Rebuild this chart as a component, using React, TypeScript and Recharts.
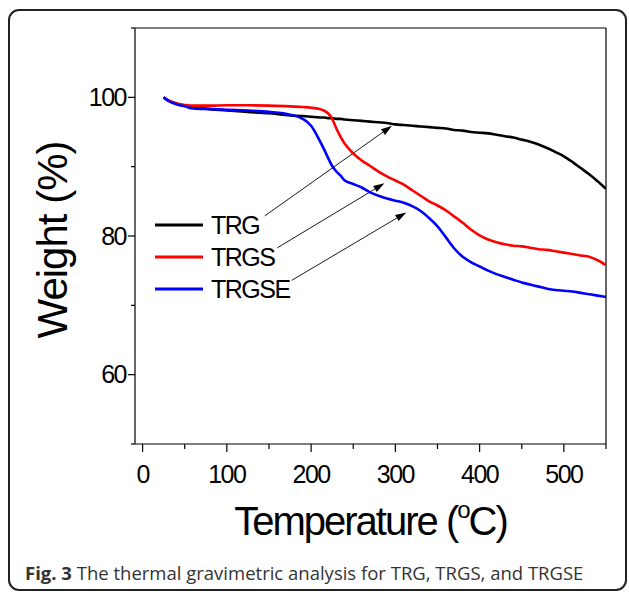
import { Label, Legend, Line, LineChart, ReferenceLine, XAxis, YAxis } from "recharts";

const temps = [
  25, 30, 40, 50, 60, 80, 100, 125, 150, 175, 190, 200, 210, 215, 220, 225, 230, 235, 240, 250,
  260, 270, 280, 290, 300, 310, 320, 330, 340, 350, 360, 370, 380, 390, 400, 410, 420, 430, 440,
  450, 460, 470, 480, 490, 500, 510, 520, 530, 540, 550,
];
const trg = [
  100, 99.6, 99.1, 98.8, 98.6, 98.3, 98.1, 97.9, 97.7, 97.4, 97.3, 97.2, 97.1, 97.1, 97.0, 97.0,
  96.9, 96.9, 96.8, 96.7, 96.6, 96.5, 96.4, 96.3, 96.1, 96.0, 95.9, 95.8, 95.7, 95.6, 95.5, 95.3,
  95.2, 95.0, 94.9, 94.8, 94.6, 94.4, 94.2, 93.9, 93.6, 93.2, 92.7, 92.1, 91.5, 90.7, 89.8, 88.9,
  87.9, 86.8,
];
const trgs = [
  100, 99.6, 99.1, 98.9, 98.8, 98.8, 98.85, 98.85, 98.8, 98.7, 98.6, 98.5, 98.3, 98.1, 97.7, 96.9,
  95.5, 94.3, 93.3, 91.9, 90.9, 90.1, 89.3, 88.6, 88.0, 87.4, 86.6, 85.8, 85.0, 84.4, 83.7, 82.8,
  81.9, 80.9, 80.1, 79.5, 79.1, 78.8, 78.6, 78.5, 78.3, 78.1, 78.0, 77.8, 77.6, 77.4, 77.2, 77.0,
  76.5, 75.8,
];
const trgse = [
  100, 99.5, 99.0, 98.7, 98.4, 98.3, 98.2, 98.1, 97.9, 97.5, 96.9, 95.9, 93.8, 92.6, 91.3, 90.1,
  89.3, 88.7, 88.0, 87.5, 87.0, 86.3, 85.8, 85.4, 85.1, 84.8, 84.3, 83.6, 82.6, 81.4, 79.8, 78.2,
  77.0, 76.2, 75.6, 75.0, 74.5, 74.1, 73.7, 73.3, 73.0, 72.7, 72.4, 72.2, 72.1, 72.0, 71.8, 71.6,
  71.4, 71.2,
];

const xTicks = [0, 50, 100, 150, 200, 250, 300, 350, 400, 450, 500, 550];
const yTicks = [50, 60, 70, 80, 90, 100, 110];

const seriesNames = ["TRG", "TRGS", "TRGSE"];
const seriesColors = ["#000000", "#ff0000", "#0000ff"];

// arrows from legend labels to curves: [x1, y1, x2, y2] in data units
const arrows = [
  [145, 82.9, 296, 95.9],
  [160, 78.3, 287, 87.6],
  [177, 73.6, 313, 83.4],
];

const data = temps.map((t, i) => ({ t, TRG: trg[i], TRGS: trgs[i], TRGSE: trgse[i] }));

const tickFont = { fontFamily: "'Liberation Sans', Arial, sans-serif", fontSize: 25, letterSpacing: -1.5 };

const XTick = (props: any) => {
  const { x, y, payload } = props;
  const major = payload.value % 100 === 0;
  return (
    <g>
      <line x1={x} y1={y} x2={x} y2={y + (major ? 8 : 5)} stroke="#000" strokeWidth={1.2} />
      {major && payload.value <= 500 && (
        <text x={x} y={y + 30} dy="0.35em" textAnchor="middle" fill="#000" style={tickFont}>
          {payload.value}
        </text>
      )}
    </g>
  );
};

const YTick = (props: any) => {
  const { x, y, payload } = props;
  const major = payload.value % 20 === 0 && payload.value >= 60 && payload.value <= 100;
  return (
    <g>
      <line x1={x - (major ? 7 : 4)} y1={y} x2={x} y2={y} stroke="#000" strokeWidth={1.2} />
      {major && (
        <text x={x - 9} y={y} dy="0.35em" textAnchor="end" fill="#000" style={tickFont}>
          {payload.value}
        </text>
      )}
    </g>
  );
};

const Arrow = (props: any) => {
  const { x1, y1, x2, y2 } = props;
  if (x1 == null) return null;
  const a = Math.atan2(y2 - y1, x2 - x1);
  const len = 11;
  const w = 3.5;
  const bx = x2 - len * Math.cos(a);
  const by = y2 - len * Math.sin(a);
  const pts = `${x2},${y2} ${bx - w * Math.sin(a)},${by + w * Math.cos(a)} ${bx + w * Math.sin(a)},${by - w * Math.cos(a)}`;
  return (
    <g>
      <line x1={x1} y1={y1} x2={bx} y2={by} stroke="#000" strokeWidth={0.9} />
      <polygon points={pts} fill="#000" />
    </g>
  );
};

const renderLegend = () => (
  <div style={{ fontFamily: "'Liberation Sans', Arial, sans-serif", fontSize: 25, letterSpacing: -1.5 }}>
    {seriesNames.map((name, i) => (
      <div key={name} style={{ display: "flex", alignItems: "center", height: 32 }}>
        <svg width={50} height={6} style={{ marginRight: 6 }}>
          <line x1={0} y1={3} x2={48} y2={3} stroke={seriesColors[i]} strokeWidth={3} />
        </svg>
        <span style={{ color: "#000" }}>{name}</span>
      </div>
    ))}
  </div>
);

const XTitle = (props: any) => {
  const { viewBox } = props;
  const cx = viewBox.x + viewBox.width / 2;
  return (
    <text
      x={cx}
      y={535}
      textAnchor="middle"
      fill="#000"
      style={{ fontFamily: "'Liberation Sans', Arial, sans-serif", fontSize: 40, letterSpacing: -2 }}
    >
      Temperature (<tspan fontSize={24} dy={-17}>o</tspan>
      <tspan dy={17}>C)</tspan>
    </text>
  );
};

const YTitle = () => (
  <text
    x={0}
    y={0}
    transform="translate(67, 240) rotate(-90)"
    textAnchor="middle"
    fill="#000"
    style={{ fontFamily: "'Liberation Sans', Arial, sans-serif", fontSize: 42, letterSpacing: -1 }}
  >
    Weight (%)
  </text>
);

export default function App() {
  return (
    <div style={{ position: "absolute", left: 0, top: 0, width: 629, height: 592, background: "#fff" }}>
      <LineChart width={629} height={592} data={data} margin={{ top: 28, right: 23, bottom: 108, left: 75 }}>
        <XAxis
          dataKey="t"
          type="number"
          domain={[-9, 550]}
          ticks={xTicks}
          tick={<XTick />}
          tickLine={false}
          tickSize={0}
          tickMargin={0}
          height={40}
          axisLine={{ stroke: "#000", strokeWidth: 1.2 }}
          allowDataOverflow
        >
          <Label content={<XTitle />} />
        </XAxis>
        <YAxis
          type="number"
          domain={[50, 110]}
          ticks={yTicks}
          tick={<YTick />}
          tickLine={false}
          tickSize={0}
          tickMargin={0}
          width={60}
          axisLine={{ stroke: "#000", strokeWidth: 1.2 }}
          allowDataOverflow
        >
          <Label content={<YTitle />} />
        </YAxis>
        <ReferenceLine y={110} stroke="#000" strokeWidth={1.2} />
        <ReferenceLine x={550} stroke="#000" strokeWidth={1.2} />
        {arrows.map((a, i) => (
          <ReferenceLine
            key={i}
            segment={[
              { x: a[0], y: a[1] },
              { x: a[2], y: a[3] },
            ]}
            shape={<Arrow />}
          />
        ))}
        {seriesNames.map((name, i) => (
          <Line
            key={name}
            dataKey={name}
            type="monotone"
            stroke={seriesColors[i]}
            strokeWidth={2.6}
            dot={false}
            isAnimationActive={false}
          />
        ))}
        <Legend
          layout="horizontal"
          verticalAlign="middle"
          content={renderLegend}
          wrapperStyle={{ left: 155, top: 209, width: "auto" }}
        />
      </LineChart>
      <svg width={629} height={592} style={{ position: "absolute", left: 0, top: 0, pointerEvents: "none" }}>
        <rect x={9} y={10} width={617} height={580} rx={10} fill="none" stroke="#222" strokeWidth={2} />
        <text x={25} y={580} fill="#333" style={{ fontFamily: "'Open Sans', sans-serif", fontSize: 18.5 }}>
          <tspan fontWeight="bold">Fig. 3</tspan> The thermal gravimetric analysis for TRG, TRGS, and TRGSE
        </text>
      </svg>
    </div>
  );
}
